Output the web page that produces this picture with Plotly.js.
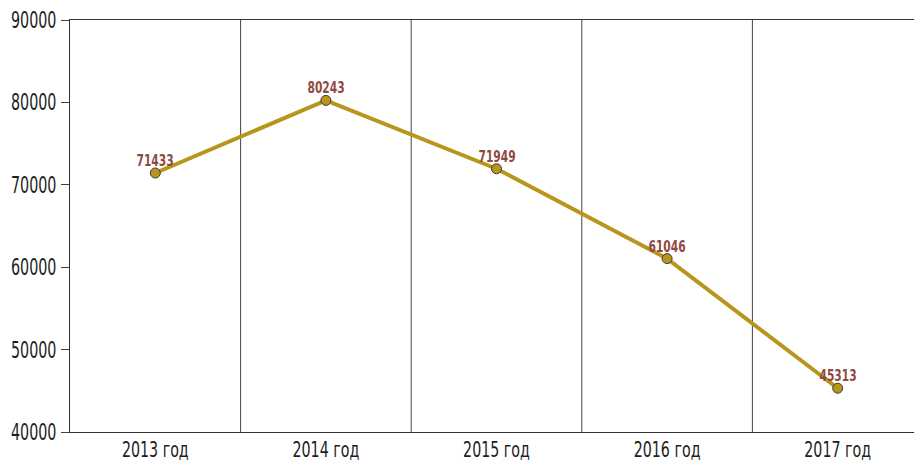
<!DOCTYPE html>
<html><head><meta charset="utf-8">
<script src="https://cdn.plot.ly/plotly-3.0.1.min.js"></script>
<style>html,body{margin:0;padding:0;overflow:hidden;background:#fff}</style>
</head><body>
<div id="chart" style="width:924px;height:463px"></div>
<script>
const categories = ["2013 год", "2014 год", "2015 год", "2016 год", "2017 год"];
const values = [71433, 80243, 71949, 61046, 45313];
const yTicks = [40000, 50000, 60000, 70000, 80000, 90000];
const positions = categories.map((c, i) => i);

const FONT = "'DejaVu Sans Condensed', 'Liberation Sans Narrow', Roboto, sans-serif";

const trace = {
  x: positions,
  y: values,
  type: "scatter",
  mode: "lines+markers",
  line: {color: "#b8961e", width: 4},
  marker: {color: "#b8961e", size: 10, line: {color: "#3a3a3a", width: 1}},
  cliponaxis: false,
  hoverinfo: "none"
};

const layout = {
  width: 924, height: 463,
  margin: {l: 70, r: 1, t: 20, b: 31},
  paper_bgcolor: "#fff", plot_bgcolor: "#fff",
  showlegend: false,
  font: {family: FONT, size: 23, color: "#1e1e1e"},
  xaxis: {
    type: "linear",
    range: [-0.5, 4.5],
    tickvals: positions,
    ticktext: categories,
    ticks: "",
    ticklabelstandoff: -2,
    showgrid: false,
    showline: true, linecolor: "#333", linewidth: 1, mirror: true,
    zeroline: false, fixedrange: true,
    tickfont: {family: FONT, size: 22, color: "#1e1e1e"}
  },
  yaxis: {
    range: [40000, 90000],
    tickvals: yTicks,
    ticktext: yTicks.map(String),
    ticks: "outside", ticklen: 8, tickcolor: "#444",
    ticklabelstandoff: 0,
    showgrid: false, zeroline: false,
    showline: true, linecolor: "#333", linewidth: 1,
    tickfont: {family: FONT, size: 23, color: "#1e1e1e"},
    fixedrange: true
  },
  shapes: [0.5, 1.5, 2.5, 3.5].map(b => ({
    type: "line", xref: "x", yref: "paper", x0: b, x1: b, y0: 0, y1: 1,
    line: {color: "#444", width: 1}, layer: "below"
  })),
  annotations: values.map((v, i) => ({
    x: positions[i], y: v, xref: "x", yref: "y",
    text: String(v), showarrow: false,
    xanchor: "center", yanchor: "bottom", yshift: 1,
    font: {family: FONT, size: 16, color: "#8f4a3f", weight: "bold"}
  }))
};

function condense(sel, factor) {
  document.querySelectorAll(sel).forEach(t => {
    const len = t.getComputedTextLength();
    if (len > 0) {
      t.setAttribute("textLength", (len * factor).toFixed(2));
      t.setAttribute("lengthAdjust", "spacingAndGlyphs");
    }
  });
}

Plotly.newPlot("chart", [trace], layout, {staticPlot: true, displayModeBar: false}).then(() => {
  condense("#chart .xtick text", 0.72);
  condense("#chart .ytick text", 0.69);
  condense("#chart .annotation-text", 0.74);
});
</script>
</body></html>
